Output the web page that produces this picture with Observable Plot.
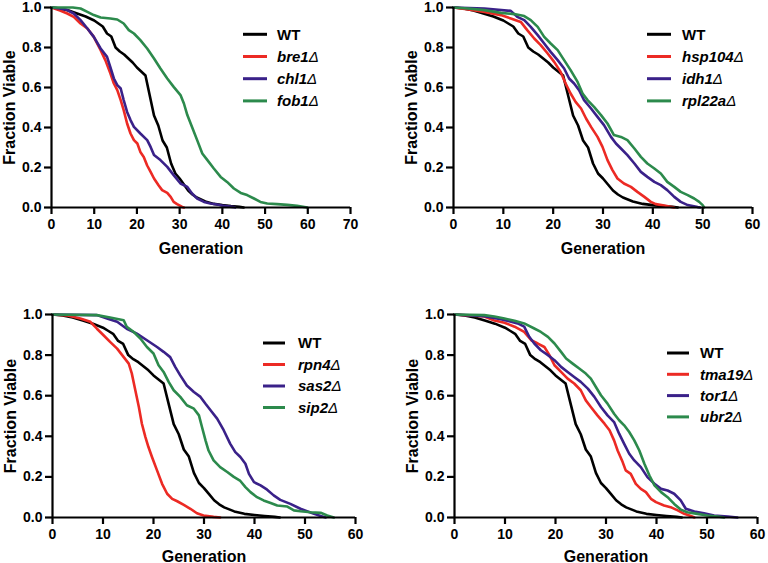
<!DOCTYPE html>
<html>
<head>
<meta charset="utf-8">
<script src="https://cdn.jsdelivr.net/npm/d3@7"></script>
<script src="https://cdn.jsdelivr.net/npm/@observablehq/plot@0.6"></script>
<style>
  html, body { margin: 0; padding: 0; background: #fff; }
  #wrap { position: relative; width: 768px; height: 563px; overflow: hidden; background: #fff; }
  #wrap > div { position: absolute; }
  svg { overflow: visible; }
</style>
</head>
<body>
<div id="wrap">
  <div id="p1" style="left:0px;top:0px"></div>
  <div id="p2" style="left:384px;top:0px"></div>
  <div id="p3" style="left:0px;top:290px"></div>
  <div id="p4" style="left:384px;top:290px"></div>
</div>
<script>
// ---- data: [generation, fraction viable] ----
const WT = [[0,1],[2,0.995],[4,0.985],[6,0.97],[8,0.955],[10,0.935],[11,0.92],[12,0.905],[13,0.87],[14,0.855],[15,0.8],[16,0.78],[17,0.765],[18,0.745],[19,0.725],[20,0.7],[21,0.68],[22,0.66],[23,0.56],[24,0.46],[25,0.41],[26,0.335],[27,0.3],[28,0.22],[29,0.17],[30,0.145],[31,0.115],[32,0.085],[33,0.065],[34,0.05],[35,0.04],[36,0.03],[38,0.018],[40,0.012],[42,0.007],[44,0.003],[45,0]];
const bre1 = [[0,1],[2,0.985],[3.7,0.97],[5.2,0.953],[6.8,0.92],[8.4,0.895],[9.9,0.853],[11.5,0.787],[12.6,0.737],[13.8,0.67],[14.6,0.62],[15.4,0.587],[16.2,0.537],[16.9,0.487],[17.7,0.42],[18.5,0.37],[19.3,0.337],[20.1,0.32],[20.8,0.278],[21.6,0.253],[22.4,0.21],[23.2,0.178],[24,0.145],[25.1,0.11],[25.9,0.087],[27.1,0.073],[27.9,0.053],[28.6,0.028],[29.4,0.017],[30.6,0.003],[31,0]];
const chl1 = [[0,1],[2,0.995],[3.7,0.987],[5.2,0.97],[6.8,0.937],[8.4,0.895],[9.9,0.853],[11.5,0.795],[13,0.753],[13.8,0.7],[14.6,0.645],[15.4,0.612],[16.2,0.595],[16.9,0.537],[17.7,0.478],[18.5,0.437],[19.3,0.403],[20.8,0.37],[22.4,0.337],[23.2,0.303],[24,0.262],[25.5,0.237],[27.1,0.203],[28.6,0.162],[30.2,0.12],[31.8,0.103],[32.9,0.07],[34.1,0.045],[35.7,0.028],[37.2,0.02],[38.8,0.015],[40.4,0.008],[42.7,0.002],[43,0]];
const fob1 = [[0,1],[5,1],[6.8,0.995],[8.4,0.978],[9.9,0.962],[11.5,0.95],[13.8,0.945],[15.4,0.94],[16.9,0.92],[18.1,0.887],[19.3,0.87],[20.8,0.837],[22.4,0.795],[24,0.745],[25.5,0.695],[27.1,0.645],[28.6,0.603],[30.2,0.562],[31,0.52],[31.8,0.462],[32.9,0.403],[34.1,0.337],[35.3,0.27],[36.5,0.237],[38,0.195],[39.6,0.153],[41.1,0.128],[42.7,0.095],[44.3,0.073],[45.8,0.062],[47.4,0.045],[48.9,0.028],[50.5,0.02],[52.8,0.017],[55.2,0.013],[57.5,0.008],[59.9,0]];
const hsp104 = [[0,1],[3,0.99],[6.2,0.978],[9.5,0.962],[11.5,0.945],[13.5,0.928],[14.8,0.887],[16.2,0.845],[17.5,0.812],[18.9,0.77],[20.2,0.728],[21.5,0.678],[22.5,0.62],[23.5,0.57],[24.5,0.528],[25.6,0.495],[26.6,0.445],[27.6,0.403],[28.9,0.353],[29.9,0.303],[30.9,0.237],[31.9,0.187],[32.9,0.145],[34.2,0.12],[35.6,0.103],[36.9,0.078],[38.3,0.053],[39.6,0.028],[40.6,0.017],[42.3,0.01],[44.3,0]];
const idh1 = [[0,1],[6.2,0.995],[11.5,0.983],[12.8,0.953],[14.2,0.937],[15.5,0.903],[16.9,0.862],[18.2,0.82],[19.5,0.778],[20.9,0.737],[22.2,0.695],[23.2,0.645],[24.2,0.62],[25.2,0.587],[26.2,0.537],[27.6,0.495],[28.9,0.453],[30.2,0.412],[31.6,0.353],[32.6,0.32],[33.6,0.295],[34.9,0.262],[36.3,0.22],[37.6,0.178],[38.9,0.153],[40.3,0.128],[41.6,0.112],[42.9,0.087],[44.3,0.053],[45.6,0.028],[47,0.012],[49,0.002],[49.5,0]];
const rpl22a = [[0,1],[3,0.995],[6.2,0.987],[9.5,0.973],[12.2,0.967],[14.2,0.957],[15.5,0.937],[16.9,0.903],[18.2,0.853],[19.5,0.82],[20.9,0.787],[22.2,0.737],[23.5,0.687],[24.9,0.628],[25.9,0.57],[26.9,0.537],[28.2,0.503],[29.6,0.462],[30.9,0.42],[32.2,0.362],[33.6,0.353],[34.9,0.337],[36.3,0.295],[37.6,0.253],[38.9,0.22],[40.3,0.195],[41.6,0.17],[42.9,0.128],[44.3,0.103],[45.6,0.078],[47,0.062],[48.3,0.045],[49.3,0.028],[50,0.012],[50.3,0]];
const rpn4 = [[0,1],[3,0.995],[5.5,0.98],[7.5,0.964],[8.8,0.93],[10.1,0.898],[11.4,0.865],[12.8,0.832],[14.1,0.79],[15.1,0.758],[15.7,0.71],[16.4,0.627],[17.1,0.544],[17.7,0.462],[18.4,0.396],[19,0.347],[19.7,0.298],[20.7,0.232],[21.7,0.166],[22.7,0.117],[23.7,0.092],[24.7,0.08],[26,0.062],[27.3,0.043],[28.6,0.021],[29.9,0.01],[31.9,0.003],[33.2,0]];
const sas2 = [[0,1],[8.8,0.997],[10.8,0.98],[12.8,0.964],[14.7,0.93],[16.7,0.906],[18.7,0.873],[20.7,0.84],[22,0.816],[23.3,0.79],[24.3,0.742],[25.3,0.7],[26.6,0.65],[28,0.618],[29.3,0.594],[30.3,0.56],[31.3,0.528],[32.6,0.487],[33.9,0.43],[35.2,0.363],[36.2,0.322],[37.2,0.298],[38.2,0.265],[38.9,0.215],[39.9,0.174],[41.2,0.158],[42.5,0.137],[43.8,0.109],[45.1,0.087],[47.1,0.067],[49.1,0.043],[50.4,0.031],[51.8,0.018],[53.1,0.007],[54.1,0]];
const sip2 = [[0,1],[8.8,0.997],[11.4,0.985],[14.1,0.972],[14.7,0.94],[16.1,0.914],[17.4,0.882],[18.7,0.84],[20,0.808],[21,0.75],[22,0.717],[23,0.668],[24,0.627],[25.3,0.594],[26.6,0.553],[28,0.536],[29,0.503],[29.6,0.446],[30.3,0.38],[30.9,0.33],[31.9,0.281],[33.2,0.248],[34.6,0.224],[35.9,0.2],[37.2,0.18],[38.2,0.15],[39.2,0.125],[40.5,0.1],[41.8,0.084],[43.2,0.071],[44.5,0.059],[46.5,0.054],[47.8,0.035],[49.1,0.031],[51.1,0.026],[53.1,0.023],[54.4,0.01],[55.7,0]];
const tma19 = [[0,1],[5.9,0.99],[7.9,0.97],[9.9,0.959],[11.9,0.94],[13.8,0.914],[15.2,0.873],[16.5,0.857],[17.8,0.84],[18.8,0.8],[19.8,0.75],[21.1,0.717],[22.4,0.684],[23.7,0.66],[25,0.627],[26,0.577],[27,0.544],[28.3,0.503],[29.7,0.462],[30.7,0.43],[31.6,0.38],[32.3,0.33],[33.3,0.273],[33.9,0.232],[34.9,0.215],[35.9,0.166],[36.9,0.141],[37.9,0.125],[38.9,0.092],[39.9,0.076],[41.5,0.059],[42.8,0.051],[44.2,0.035],[45.5,0.018],[46.8,0.007],[47.5,0]];
const tor1 = [[0,1],[5.9,0.992],[9.2,0.977],[12.5,0.956],[13.8,0.94],[14.8,0.89],[15.8,0.857],[17.1,0.824],[18.5,0.8],[19.8,0.775],[21.1,0.742],[22.4,0.717],[23.7,0.692],[25,0.668],[26.4,0.635],[27.7,0.594],[29,0.544],[30.3,0.503],[31.6,0.47],[32.6,0.413],[33.6,0.363],[34.6,0.314],[35.6,0.281],[36.9,0.248],[38.2,0.199],[39.6,0.166],[40.9,0.141],[42.2,0.133],[43.5,0.117],[44.8,0.084],[45.8,0.043],[47.5,0.03],[49.4,0.021],[51.4,0.01],[54.1,0.005],[56,0]];
const ubr2 = [[0,1],[5.9,0.997],[7.9,0.99],[9.9,0.98],[11.9,0.969],[13.8,0.956],[15.8,0.931],[17.1,0.914],[18.5,0.89],[19.8,0.857],[21.1,0.816],[22.1,0.783],[23.4,0.758],[24.7,0.734],[26,0.709],[27,0.684],[28,0.643],[29,0.602],[30.3,0.561],[31.6,0.511],[32.6,0.479],[33.6,0.454],[34.6,0.421],[35.6,0.38],[36.6,0.33],[37.6,0.265],[38.6,0.207],[39.6,0.158],[40.9,0.125],[42.2,0.1],[43.5,0.067],[44.8,0.039],[46.1,0.026],[48.1,0.018],[50.1,0.01],[52.1,0.005],[53.4,0]];

// panel contents
const panel1Names = ["WT", "bre1", "chl1", "fob1"];
const panel2Names = ["WT", "hsp104", "idh1", "rpl22a"];
const panel3Names = ["WT", "rpn4", "sas2", "sip2"];
const panel4Names = ["WT", "tma19", "tor1", "ubr2"];
const seriesData = {WT, bre1, chl1, fob1, hsp104, idh1, rpl22a, rpn4, sas2, sip2, tma19, tor1, ubr2};
const xMax = [70, 60, 60, 60];
const yTicks = [0, 0.2, 0.4, 0.6, 0.8, 1.0];
const palette = ["#000000", "#ec2a24", "#3a2189", "#2c8a4c"];
const FONT = "'Liberation Sans', Arial, Helvetica, sans-serif";

function makePanel(target, names, xmax, lay) {
  const rows = names.flatMap(n => seriesData[n].map(([g, f]) => ({strain: n, g, f})));
  const xt = d3.range(0, xmax + 1, 10);
  const svg = Plot.plot({
    width: 384,
    height: lay.height,
    marginLeft: lay.ml, marginRight: lay.mr, marginTop: lay.mt, marginBottom: lay.mb,
    style: {fontFamily: FONT, fontWeight: "bold", color: "#000", background: "transparent", overflow: "visible"},
    x: {domain: [0, xmax]},
    y: {domain: [0, 1]},
    color: {domain: names, range: palette},
    marks: [
      Plot.line(rows, {x: "g", y: "f", z: "strain", stroke: "strain", strokeWidth: 2.6, strokeLinejoin: "round"}),
      Plot.ruleY([0], {stroke: "#000", strokeWidth: 2.2}),
      Plot.ruleX([0], {stroke: "#000", strokeWidth: 2.2}),
      Plot.axisX({ticks: xt, tickSize: 7, tickPadding: 5, strokeWidth: 2.2, fontSize: 14,
        label: "Generation", labelAnchor: "center", labelArrow: "none", labelOffset: lay.xlo}),
      Plot.axisY({ticks: yTicks, tickFormat: d3.format(".1f"), tickSize: 7, tickPadding: 3, strokeWidth: 2.2, fontSize: 14,
        label: "Fraction Viable", labelAnchor: "center", labelArrow: "none", labelOffset: lay.ylo})
    ]
  });
  // larger axis titles
  d3.select(svg).selectAll('g[aria-label="x-axis label"] text, g[aria-label="y-axis label"] text')
    .attr("font-size", 16).style("font-size", "16px");
  // legend
  const lg = d3.select(svg).append("g").attr("font-family", FONT).attr("font-size", 15)
    .attr("font-weight", "bold").attr("text-anchor", "start");
  names.forEach((n, i) => {
    const y = lay.ly + i * lay.ldy;
    lg.append("line").attr("x1", lay.lx).attr("x2", lay.lx + lay.llen).attr("y1", y).attr("y2", y)
      .attr("stroke", palette[i]).attr("stroke-width", 3);
    const t = lg.append("text").attr("x", lay.tx).attr("y", y).attr("dy", "0.36em")
      .attr("fill", "#000").attr("text-anchor", "start");
    if (n === "WT") t.text("WT");
    else {
      t.append("tspan").attr("font-style", "italic").text(n);
      t.append("tspan").attr("font-style", "italic").attr("font-weight", "normal").text("\u0394");
    }
  });
  document.getElementById(target).appendChild(svg);
}

makePanel("p1", panel1Names, xMax[0], {height: 280, ml: 51, mr: 34, mt: 7, mb: 73, xlo: 46, ylo: 48, lx: 243, llen: 24, tx: 277, ly: 34.3, ldy: 22.2});
makePanel("p2", panel2Names, xMax[1], {height: 280, ml: 69, mr: 16, mt: 7, mb: 73, xlo: 46, ylo: 48, lx: 263, llen: 24, tx: 298, ly: 34.3, ldy: 22.2});
makePanel("p3", panel3Names, xMax[2], {height: 273, ml: 52, mr: 29, mt: 24, mb: 46, xlo: 44, ylo: 48, lx: 263, llen: 22, tx: 298, ly: 53, ldy: 21.5});
makePanel("p4", panel4Names, xMax[3], {height: 273, ml: 70, mr: 11, mt: 24, mb: 46, xlo: 44, ylo: 48, lx: 283, llen: 22, tx: 316, ly: 63, ldy: 21.3});
</script>
</body>
</html>
